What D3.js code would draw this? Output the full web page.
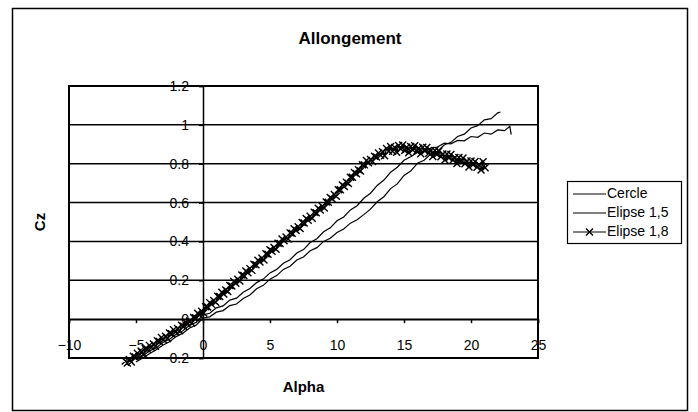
<!DOCTYPE html>
<html>
<head>
<meta charset="utf-8">
<script src="https://cdn.jsdelivr.net/npm/d3@7"></script>
<style>
  body { margin: 0; background: #fff; }
  svg { display: block; font-family: "Liberation Sans", Arial, sans-serif; }
</style>
</head>
<body>
<svg id="chart" width="698" height="412"></svg>
<script>
// Chart values
const chartTitle = "Allongement";
const xTitle = "Alpha";
const yTitle = "Cz";
const xTicks = [-10, -5, 0, 5, 10, 15, 20, 25];
const yTicks = [-0.2, 0, 0.2, 0.4, 0.6, 0.8, 1, 1.2];
const seriesNames = ["Cercle", "Elipse 1,5", "Elipse 1,8"];

// [alpha, Cz]
const cercle = [
  [-5.0,-0.22],[-4.5,-0.2],[-4.0,-0.178],[-3.5,-0.158],[-3.0,-0.134],[-2.5,-0.116],
  [-2.0,-0.09],[-1.5,-0.072],[-1.0,-0.046],[-0.5,-0.03],[0.0,0.006],[0.5,0.012],
  [1.0,0.036],[1.5,0.044],[2.0,0.07],[2.5,0.078],[3.0,0.106],[3.5,0.124],
  [4.0,0.156],[4.5,0.174],[5.0,0.206],[5.5,0.224],[6.0,0.256],[6.5,0.272],
  [7.0,0.304],[7.5,0.32],[8.0,0.352],[8.5,0.368],[9.0,0.4],[9.5,0.416],
  [10.0,0.446],[10.5,0.464],[11.0,0.494],[11.5,0.512],[12.0,0.538],[12.5,0.566],
  [13.0,0.604],[13.5,0.63],[14.0,0.672],[14.5,0.696],[15.0,0.74],[15.5,0.762],
  [16.0,0.802],[16.5,0.818],[17.0,0.85],[17.5,0.864],[18.0,0.896],[18.5,0.91],
  [19.0,0.94],[19.5,0.952],[20.0,0.984],[20.5,0.996],[21.0,1.026],[21.5,1.032],
  [22.0,1.062],[22.2,1.066]
];

const elipse15 = [
  [-5.0,-0.205],[-4.5,-0.19],[-4.0,-0.164],[-3.5,-0.148],[-3.0,-0.12],[-2.5,-0.104],
  [-2.0,-0.078],[-1.5,-0.06],[-1.0,-0.032],[-0.5,-0.016],[0.0,0.022],[0.5,0.03],
  [1.0,0.058],[1.5,0.068],[2.0,0.098],[2.5,0.108],[3.0,0.138],[3.5,0.158],
  [4.0,0.188],[4.5,0.206],[5.0,0.238],[5.5,0.256],[6.0,0.288],[6.5,0.306],
  [7.0,0.34],[7.5,0.358],[8.0,0.394],[8.5,0.414],[9.0,0.45],[9.5,0.47],
  [10.0,0.506],[10.5,0.526],[11.0,0.562],[11.5,0.584],[12.0,0.622],[12.5,0.648],
  [13.0,0.688],[13.5,0.716],[14.0,0.756],[14.5,0.782],[15.0,0.818],[15.5,0.836],
  [16.0,0.858],[16.5,0.862],[17.0,0.88],[17.5,0.886],[18.0,0.906],[18.5,0.902],
  [19.0,0.92],[19.5,0.918],[20.0,0.94],[20.5,0.936],[21.0,0.958],[21.5,0.952],
  [22.0,0.974],[22.5,0.97],[22.9,0.992],[23.0,0.95]
];

const elipse18 = [
  [-5.8,-0.215],[-5.65,-0.226],[-5.5,-0.208],[-5.35,-0.22],[-5.2,-0.191],[-5.05,-0.195],
  [-4.9,-0.175],[-4.75,-0.186],[-4.6,-0.168],[-4.45,-0.18],[-4.3,-0.151],[-4.15,-0.155],
  [-4.0,-0.135],[-3.85,-0.146],[-3.7,-0.128],[-3.55,-0.14],[-3.4,-0.111],[-3.25,-0.115],
  [-3.1,-0.095],[-2.95,-0.106],[-2.8,-0.088],[-2.65,-0.1],[-2.5,-0.071],[-2.35,-0.075],
  [-2.2,-0.055],[-2.05,-0.066],[-1.9,-0.048],[-1.75,-0.06],[-1.6,-0.031],[-1.45,-0.036],
  [-1.3,-0.015],[-1.15,-0.026],[-1.0,-0.009],[-0.85,-0.02],[-0.7,0.009],[-0.55,0.007],
  [-0.4,0.03],[-0.25,0.021],[-0.1,0.041],[0.05,0.032],[0.2,0.064],[0.35,0.062],
  [0.5,0.085],[0.65,0.076],[0.8,0.096],[0.95,0.087],[1.1,0.118],[1.25,0.116],
  [1.4,0.139],[1.55,0.13],[1.7,0.15],[1.85,0.142],[2.0,0.173],[2.15,0.171],
  [2.3,0.194],[2.45,0.185],[2.6,0.205],[2.75,0.196],[2.9,0.227],[3.05,0.225],
  [3.2,0.248],[3.35,0.239],[3.5,0.26],[3.65,0.251],[3.8,0.282],[3.95,0.28],
  [4.1,0.303],[4.25,0.294],[4.4,0.314],[4.55,0.305],[4.7,0.336],[4.85,0.334],
  [5.0,0.357],[5.15,0.349],[5.3,0.369],[5.45,0.36],[5.6,0.391],[5.75,0.389],
  [5.9,0.412],[6.05,0.403],[6.2,0.423],[6.35,0.413],[6.5,0.444],[6.65,0.442],
  [6.8,0.465],[6.95,0.456],[7.1,0.476],[7.25,0.466],[7.4,0.497],[7.55,0.495],
  [7.7,0.518],[7.85,0.509],[8.0,0.529],[8.15,0.519],[8.3,0.55],[8.45,0.548],
  [8.6,0.571],[8.75,0.562],[8.9,0.581],[9.05,0.572],[9.2,0.603],[9.35,0.602],
  [9.5,0.626],[9.65,0.619],[9.8,0.641],[9.95,0.633],[10.1,0.666],[10.25,0.666],
  [10.4,0.691],[10.55,0.683],[10.7,0.705],[10.85,0.698],[11.0,0.73],[11.15,0.73],
  [11.3,0.755],[11.45,0.748],[11.6,0.769],[11.75,0.762],[11.9,0.795],[12.05,0.794],
  [12.2,0.816],[12.35,0.805],[12.5,0.822],[12.65,0.811],[12.8,0.839],[12.95,0.835],
  [13.1,0.855],[13.25,0.844],[13.4,0.861],[13.55,0.841],[13.7,0.878],[13.85,0.864],
  [14.0,0.888],[14.15,0.864],[14.3,0.884],[14.45,0.859],[14.6,0.894],[14.75,0.876],
  [14.9,0.896],[15.05,0.868],[15.2,0.885],[15.35,0.856],[15.5,0.889],[15.65,0.871],
  [15.8,0.892],[15.95,0.864],[16.1,0.88],[16.25,0.851],[16.4,0.885],[16.55,0.866],
  [16.7,0.884],[16.85,0.854],[17.0,0.868],[17.15,0.837],[17.3,0.868],[17.45,0.848],
  [17.6,0.866],[17.75,0.836],[17.9,0.85],[18.05,0.819],[18.2,0.85],[18.35,0.83],
  [18.5,0.848],[18.65,0.818],[18.8,0.832],[18.95,0.801],[19.1,0.832],[19.25,0.812],
  [19.4,0.83],[19.55,0.8],[19.7,0.814],[19.85,0.783],[20.0,0.814],[20.15,0.794],
  [20.3,0.812],[20.45,0.782],[20.6,0.796],[20.75,0.768],[20.9,0.81],[21.05,0.779]
];

const svg = d3.select("#chart");

// Plot area (pixels)
const plot = { left: 69, right: 538, top: 86, bottom: 358 };

const x = d3.scaleLinear().domain([-10, 25]).range([plot.left, plot.right]);
const y = d3.scaleLinear().domain([-0.2, 1.2]).range([plot.bottom, plot.top]);

// Outer chart frame
svg.append("rect")
  .attr("x", 12.5).attr("y", 8.5)
  .attr("width", 675).attr("height", 402)
  .attr("fill", "#fff")
  .attr("stroke", "#000")
  .attr("stroke-width", 1.5);

// Title
svg.append("text")
  .attr("x", 350).attr("y", 40)
  .attr("text-anchor", "middle")
  .attr("dominant-baseline", "middle")
  .attr("font-weight", "bold")
  .attr("font-size", 17)
  .text(chartTitle);

// Horizontal gridlines
svg.append("g")
  .selectAll("line")
  .data(yTicks)
  .join("line")
  .attr("x1", plot.left).attr("x2", plot.right)
  .attr("y1", d => y(d)).attr("y2", d => y(d))
  .attr("stroke", "#000")
  .attr("stroke-width", 1.5);

// Plot area border
svg.append("rect")
  .attr("x", plot.left).attr("y", plot.top)
  .attr("width", plot.right - plot.left)
  .attr("height", plot.bottom - plot.top)
  .attr("fill", "none")
  .attr("stroke", "#000")
  .attr("stroke-width", 2);

// Y axis, crossing at alpha = 0
const yAxis = svg.append("g")
  .attr("transform", `translate(${x(0)},0)`)
  .call(d3.axisLeft(y).tickValues(yTicks).tickSize(4).tickPadding(10)
    .tickFormat(d => String(+d.toFixed(1))));
yAxis.select(".domain").attr("stroke", "#000").attr("stroke-width", 1.5);
yAxis.selectAll(".tick line").attr("stroke", "#000").attr("stroke-width", 1.5);
yAxis.selectAll(".tick text")
  .attr("font-family", "Liberation Sans, Arial, sans-serif")
  .attr("font-size", 14)
  .attr("fill", "#000");

// X axis, crossing at Cz = 0, labels sit lower
const xAxis = svg.append("g")
  .attr("transform", `translate(0,${y(0)})`)
  .call(d3.axisBottom(x).tickValues(xTicks).tickSize(4));
xAxis.select(".domain").attr("stroke", "#000").attr("stroke-width", 1.5);
xAxis.selectAll(".tick line").attr("stroke", "#000").attr("stroke-width", 1.5);
xAxis.selectAll(".tick text")
  .attr("y", 26)
  .attr("dy", "0.35em")
  .attr("font-family", "Liberation Sans, Arial, sans-serif")
  .attr("font-size", 14)
  .attr("fill", "#000");

// Axis titles
svg.append("text")
  .attr("x", (plot.left + plot.right) / 2).attr("y", 388)
  .attr("text-anchor", "middle")
  .attr("dominant-baseline", "middle")
  .attr("font-weight", "bold")
  .attr("font-size", 15)
  .text(xTitle);

svg.append("text")
  .attr("transform", `translate(41,${(plot.top + plot.bottom) / 2}) rotate(-90)`)
  .attr("text-anchor", "middle")
  .attr("dominant-baseline", "middle")
  .attr("font-weight", "bold")
  .attr("font-size", 15)
  .text(yTitle);

// Series
const line = d3.line().x(d => x(d[0])).y(d => y(d[1]));

// "x" marker path centred on (cx, cy)
const xMark = (cx, cy, r) => `M${cx - r},${cy - r}L${cx + r},${cy + r}M${cx - r},${cy + r}L${cx + r},${cy - r}`;

[cercle, elipse15, elipse18].forEach(s => {
  svg.append("path")
    .attr("d", line(s))
    .attr("fill", "none").attr("stroke", "#000").attr("stroke-width", 1.2);
});

svg.append("path")
  .attr("d", elipse18.map(d => xMark(x(d[0]), y(d[1]), 3.5)).join(""))
  .attr("fill", "none").attr("stroke", "#000").attr("stroke-width", 1.4);

// Legend
const legend = svg.append("g").attr("transform", "translate(567,181)");
legend.append("rect")
  .attr("x", 0.5).attr("y", 0.5)
  .attr("width", 114).attr("height", 62)
  .attr("fill", "#fff")
  .attr("stroke", "#000")
  .attr("stroke-width", 1.2);

seriesNames.forEach((name, i) => {
  const ly = 13 + i * 19;
  legend.append("line")
    .attr("x1", 6).attr("x2", 39)
    .attr("y1", ly).attr("y2", ly)
    .attr("stroke", "#000").attr("stroke-width", 1.2);
  if (i === 2) {
    legend.append("path")
      .attr("d", xMark(22.5, ly, 3.5))
      .attr("stroke", "#000").attr("stroke-width", 1.4);
  }
  legend.append("text")
    .attr("x", 40).attr("y", ly)
    .attr("dominant-baseline", "middle")
    .attr("font-size", 14)
    .text(name);
});
</script>
</body>
</html>
